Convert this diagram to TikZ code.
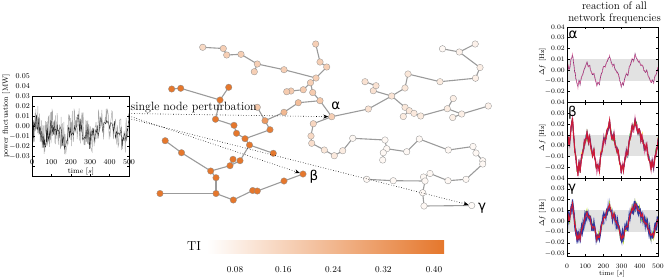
\documentclass[tikz,border=0pt]{standalone}
\usepackage{fontspec}
\newfontfamily\gk{DejaVu Sans}
\usetikzlibrary{arrows.meta}
\pgfdeclarelayer{bg}
\pgfsetlayers{bg,main}
\definecolor{tio}{RGB}{229,119,44}
\definecolor{edg}{RGB}{155,155,155}
\definecolor{bandg}{RGB}{226,226,226}
\definecolor{trpurple}{RGB}{130,40,110}
\definecolor{trpink}{RGB}{225,110,160}
\definecolor{trred}{RGB}{205,25,55}
\definecolor{trblue}{RGB}{45,55,160}
\newcommand\segs{0/0/10/-0.6, 10/-0.6/30/-2.2, 30/-2.2/45/0.4, 45/0.4/60/2.4, 60/2.4/75/1.5, 75/1.5/90/0.3, 90/0.3/110/-1.0, 110/-1.0/130/0.1, 130/0.1/150/1.2, 150/1.2/170/2.2, 170/2.2/190/0.5, 190/0.5/210/-0.8, 210/-0.8/235/-2.0, 235/-2.0/255/-0.5, 255/-0.5/275/0.4, 275/0.4/300/2.3, 300/2.3/320/1.0, 320/1.0/345/-0.8, 345/-0.8/375/-2.2, 375/-2.2/400/-1.0, 400/-1.0/430/0.2, 430/0.2/465/1.8, 465/1.8/485/1.0, 485/1.0/500/-0.3}
\newcommand\keys{0/0.2, 4/-0.1, 8/-0.6, 12/-0.2, 15/-0.3, 19/-1.0, 22/-1.6, 26/-1.9, 30/-2.3, 33/-1.7, 36/-1.0, 39/-0.6, 42/0.3, 45/0.5, 48/1.2, 51/1.5, 54/2.0, 57/2.1, 60/2.5, 63/2.0, 66/1.6, 69/1.9, 72/2.2, 76/1.6, 80/1.0, 84/0.9, 88/0.6, 92/0.2, 95/-0.2, 98/-0.3, 102/-0.6, 106/-0.8, 110/-1.1, 114/-0.7, 118/-0.4, 122/-0.6, 125/-0.7, 128/-0.2, 132/0.2, 136/0.5, 140/0.8, 144/0.6, 148/0.5, 152/1.0, 156/1.4, 160/1.8, 164/2.2, 167/2.0, 170/1.8, 174/2.0, 178/2.1, 182/1.4, 186/0.8, 190/0.5, 194/0.2, 198/-0.2, 202/-0.6, 206/-0.5, 210/-0.4, 214/-0.8, 218/-1.2, 222/-1.4, 226/-1.7, 230/-1.9, 234/-2.1, 238/-1.7, 242/-1.2, 246/-0.8, 250/-0.6, 254/-0.8, 258/-0.9, 262/-0.4, 266/0.0, 270/0.2, 274/0.4, 278/0.5, 282/0.6, 286/1.1, 290/1.6, 294/2.0, 298/2.4, 301/2.1, 304/1.8, 307/2.0, 310/2.2, 314/1.7, 318/1.2, 322/0.9, 326/0.6, 330/0.7, 334/0.8, 338/0.2, 342/-0.4, 346/-0.7, 350/-1.0, 354/-1.3, 358/-1.6, 362/-1.5, 366/-1.4, 370/-1.9, 374/-2.3, 378/-2.0, 382/-1.8, 386/-1.5, 390/-1.2, 394/-1.3, 398/-1.4, 402/-1.0, 406/-0.6, 410/-0.7, 414/-0.8, 418/-0.4, 422/0.0, 426/0.2, 430/0.3, 434/0.2, 438/0.1, 442/0.5, 446/0.9, 450/1.1, 454/1.4, 458/1.7, 462/2.0, 465/1.7, 468/1.5, 472/1.7, 476/1.9, 480/1.4, 484/0.9, 488/0.7, 492/0.5, 496/0.0, 500/-0.4}
% #1 style, #2 amplitude, #3 noise, #4 samples per segment, #5 offset
\newcommand\mytrace[5]{%
  \draw[#1] (0,#5) \foreach \ta/\va/\tb/\vb in \segs {%
    \foreach \k in {1,...,#4} {%
      -- ({\ta+(\tb-\ta)*\k/#4},{#5+#2*(\va+(\vb-\va)*\k/#4)+#3*rand})%
    }%
  };%
}
% #1 style, #2 amplitude, #3 noise
\newcommand\freqtrace[3]{%
  \draw[#1] (0,{#2*0.2}) \foreach \t/\v in \keys { -- (\t,{#2*\v+#3*rand}) };%
}
\tikzset{
  nd/.style={circle, draw=black!45, line width=0.3pt, inner sep=0pt, minimum size=6.5pt, fill=#1},
  ed/.style={draw=edg, line width=1.1pt},
  pert/.style={dotted, line width=0.6pt, -{Stealth[length=5pt,width=4pt]}},
  lab/.style={font=\fontsize{7.5}{8}\selectfont, inner sep=0pt},
  rlab/.style={font=\fontsize{6.8}{7}\selectfont, inner sep=0pt, anchor=east},
  glab/.style={font=\gk\fontsize{13.5}{13.5}\selectfont, inner sep=0pt},
  frame/.style={draw=black, line width=0.4pt}
}
\begin{document}
\begin{tikzpicture}[x=1pt,y=-1pt]
\useasboundingbox (0,0) rectangle (664,277);
\pgfmathsetseed{11}

% ---------------- left plot: power fluctuation ----------------
\begin{scope}[shift={(32,126)}, x=0.194pt, y=-1000pt]
  \begin{scope}
    \clip (0,-0.03) rectangle (500,0.05);
    \mytrace{gray!70, line width=0.45pt}{0.004}{0.018}{10}{0.004}
    \mytrace{black!85, line width=0.35pt}{0.004}{0.01}{6}{0.005}
  \end{scope}
  \draw[frame] (0,-0.03) rectangle (500,0.05);
  \foreach \v in {-0.02,-0.01,0,0.01,0.02,0.03,0.04}{
    \draw[line width=0.3pt] (0,\v) -- ++(2.5pt,0);
    \draw[line width=0.3pt] (500,\v) -- ++(-2.5pt,0);
  }
  \foreach \t in {100,200,300,400}{
    \draw[line width=0.3pt] (\t,-0.03) -- ++(0,-2.5pt);
    \draw[line width=0.3pt] (\t,0.05) -- ++(0,2.5pt);
  }
\end{scope}
\foreach \v in {5,4,3,2,1,0} \node[lab, anchor=east] at (30,{126-\v*10}) {0.0\v};
\foreach \v in {1,2,3} \node[lab, anchor=east] at (30,{126+\v*10}) {$-$0.0\v};
\foreach \t in {0,100,200,300,400,500} \node[lab] at ({32+\t*0.194},162.5) {\t};
\node[lab] (ltime) at (81,171.5) {time [$s$]};
\node[lab, rotate=90] (lpow) at (6,116) {power fluctuation [MW]};

% ---------------- network nodes ----------------
\foreach \n/\x/\y/\c in {
  o1/171.7/89/100, o2/180.7/88.3/100, o3/220/100/100, o4/228.7/87.3/100,
  o5/215.5/119.3/100, o6/234/125.3/100, o7/236.5/133.3/100, o8/245/138.7/100,
  o9/249.5/145/100, o10/270/129.7/95, o11/265/120.7/75, o12/273.3/153.3/100,
  o13/240/160.7/100, o14/233/159.3/100, o15/230/165.7/100, o16/210.7/171/100,
  o17/181.5/152.7/100, o18/165.2/140.7/100, o19/216/177.7/100, o20/216/193.5/100,
  o21/160/193.5/100, o22/233.3/200/100, o23/252.7/190.5/100, o24/257.3/191/100,
  o25/284/181/100, beta/303/174/100}
  \node[nd=tio!\c] (\n) at (\x,\y) {};
\foreach \n/\x/\y/\c in {
  p1/202.7/47.3/28, p2/223.3/48.5/35, p3/226.7/55/35, p4/241/54.3/35,
  p5/257.3/64/35, p6/254.3/71.7/35, p7/284/69.7/35, p8/316/78/35,
  p9/315.7/44/35, p10/320/62/35, p11/326.7/67/35, p12/310.5/82.7/35,
  p13/303.3/89.7/38, p14/291/91/38, p15/286.7/91.7/38, p16/312.7/92.5/38,
  p17/320/100.7/40, p18/298.3/102.7/48, p19/284/112.3/52, p20/257.3/107.3/40,
  alpha/331.7/116.7/35}
  \node[nd=tio!\c] (\n) at (\x,\y) {};
\foreach \n/\x/\y/\c in {
  w1/313.3/123.7/30, w2/311/136/28, w3/311.7/143.3/24, w4/324.3/150/18,
  w5/334.3/155.7/16, w6/342.7/150.7/14, w7/352.7/138.3/6, w8/385/140/5,
  w9/386.7/148.7/5, w10/383.3/152.7/5, w11/382.7/160/5, w12/406.7/151.7/5,
  w13/419.3/139/5, w14/448.3/150/5, w15/473/146.5/5, w16/476/153/5,
  w17/482.7/160.7/5, w18/482.7/164/5, w19/466/179.3/5, w20/448/180.7/5,
  w21/430/173.5/5, w22/423.5/177/5, w23/425/181/5, w24/393.3/180.7/5,
  w25/366.7/179.3/5, w26/422.7/192.7/5, w27/424/206/5, gamma/471.7/205.5/4}
  \node[nd=tio!\c] (\n) at (\x,\y) {};
\foreach \n/\x/\y/\c in {
  r1/368.3/109/22, r2/391.7/96/20, r3/405/88/18, r4/408/74/18,
  r5/440/81.7/15, r6/475.5/78.2/12, r7/480/67.5/12, r8/459.3/52/10,
  r9/442.5/48.8/5, r10/475.2/44/10, r11/373.3/90.7/22, r12/376/85.7/22,
  r13/365/81.7/22, r14/405/107.3/18, r15/409.3/110.7/18, r16/414/113.3/16,
  r17/420.7/116/15, r18/403.3/116.5/15, r19/447.3/108.7/14, r20/453.3/98.5/12,
  r21/461.7/114/12, r22/452.7/117.5/12, r23/488.3/106/10}
  \node[nd=tio!\c] (\n) at (\x,\y) {};

% ---------------- network edges ----------------
\begin{pgfonlayer}{bg}
\foreach \a/\b in {
  o1/o2, o2/o3, o4/o3, o3/o5, o5/o6, o6/o7, o7/o8, o8/o9, o8/o10, o10/o11,
  o9/o12, o9/o13, o13/o15, o14/o15, o15/o16, o16/o17, o17/o18, o16/o19,
  o19/o20, o20/o21, o20/o22, o22/o23, o23/o24, o24/o25, o25/beta,
  o11/p20, o11/p19, p19/p18, p18/p17, p17/alpha,
  p1/p2, p2/p3, p3/p4, p4/p5, p5/p7, p7/p8, p5/p6, p9/p10, p10/p11, p11/p8,
  p8/p12, p12/p13, p13/p14, p14/p15, p12/p16, p16/p17,
  alpha/w1, w1/w2, w2/w3, w3/w4, w4/w5, w5/w6, w6/w7, w7/w8, w8/w9,
  w9/w10, w10/w11, w9/w12, w12/w13, w13/w14, w14/w15, w15/w16, w16/w17,
  w17/w18, w18/w19, w19/w20, w20/w21, w21/w22, w22/w23, w23/w24, w24/w25,
  w23/w26, w26/w27, w27/gamma,
  alpha/r1, r1/r2, r2/r3, r3/r4, r4/r5, r5/r6, r6/r7, r7/r8, r8/r9, r8/r10,
  r2/r11, r11/r12, r12/r13, r2/r14, r14/r15, r15/r16, r16/r17, r17/r19,
  r19/r20, r19/r21, r21/r23, r21/r22, r18/r15}
  \draw[ed] (\a.center) -- (\b.center);
\end{pgfonlayer}

% ---------------- perturbation arrows ----------------
\coordinate (s1) at (129,113.5);
\coordinate (s2) at (129,116);
\coordinate (s3) at (129,118.5);
\draw[pert] (s1) -- (alpha);
\draw[pert] (s2) -- (beta);
\draw[pert] (s3) -- (gamma);
\node[font=\fontsize{12}{12}\selectfont, anchor=base west, inner sep=0pt] (pertlab) at (130.5,110.5) {single node perturbation};

\node[glab] (la) at (335.7,106) {α};
\node[glab] (lb) at (314,176.5) {β};
\node[glab] (lg) at (482,208.5) {γ};

% ---------------- colour bar ----------------
\shade[left color=white, right color=tio] (207,240) rectangle (444,253);
\node[font=\fontsize{13}{13}\selectfont, inner sep=0pt] (ti) at (194,246.5) {TI};
\foreach \xx/\l in {235/0.08, 283.3/0.16, 333.3/0.24, 383.3/0.32, 434/0.40}
  \node[font=\fontsize{9}{9}\selectfont, inner sep=0pt] at (\xx,269.5) {\l};

% ---------------- right panels ----------------
\node[font=\fontsize{11}{12}\selectfont, inner sep=0pt, anchor=base] (t1) at (614.5,9.5) {reaction of all};
\node[font=\fontsize{11}{12}\selectfont, inner sep=0pt, anchor=base] (t2) at (614.5,21.5) {network frequencies};

\begin{scope}[shift={(567,70)}, x=0.182pt, y=-1080pt]
  \fill[bandg] (0,-0.01) rectangle (500,0.01);
  \begin{scope}
    \clip (0,-0.03) rectangle (500,0.04);
    \freqtrace{trpurple, line width=0.6pt}{0.0062}{0.0009}
    \freqtrace{trpink, line width=0.6pt, dash pattern=on 2pt off 2pt}{0.0062}{0.0009}
  \end{scope}
\end{scope}
\begin{scope}[shift={(567,145.6)}, x=0.182pt, y=-1080pt]
  \fill[bandg] (0,-0.01) rectangle (500,0.01);
  \begin{scope}
    \clip (0,-0.03) rectangle (500,0.04);
    \freqtrace{yellow!80!orange, line width=0.5pt}{0.0102}{0.0036}
    \freqtrace{green!60!black, line width=0.5pt}{0.0102}{0.0036}
    \freqtrace{cyan!70!black, line width=0.5pt}{0.0102}{0.0036}
    \freqtrace{trpink, line width=1pt}{0.0102}{0.0032}
    \freqtrace{trpurple, line width=1pt}{0.0102}{0.003}
    \freqtrace{trred, line width=1pt}{0.0102}{0.0026}
  \end{scope}
\end{scope}
\begin{scope}[shift={(567,221.2)}, x=0.182pt, y=-1080pt]
  \fill[bandg] (0,-0.01) rectangle (500,0.01);
  \begin{scope}
    \clip (0,-0.0322) rectangle (500,0.04);
    \freqtrace{trblue!45, line width=0.9pt}{0.0072}{0.006}
    \freqtrace{yellow!70!green, line width=0.4pt}{0.0072}{0.005}
    \freqtrace{trblue, line width=1.1pt}{0.0072}{0.005}
    \freqtrace{trblue, line width=1.1pt}{0.0072}{0.0042}
    \freqtrace{trred, line width=1pt}{0.0072}{0.0014}
  \end{scope}
\end{scope}
\foreach \yt/\yb/\yz in {26.8/102.4/70, 102.4/178/145.6, 178/256/221.2}{
  \draw[frame] (567,\yt) rectangle (658,\yb);
  \foreach \k in {-3,-2,-1,0,1,2,3}{
    \draw[line width=0.3pt] (567,{\yz-\k*10.8}) -- ++(2.5,0);
    \draw[line width=0.3pt] (658,{\yz-\k*10.8}) -- ++(-2.5,0);
  }
  \foreach \t in {100,200,300,400}{
    \draw[line width=0.3pt] ({567+\t*0.182},\yb) -- ++(0,-2.5);
    \draw[line width=0.3pt] ({567+\t*0.182},\yt) -- ++(0,2.5);
  }
  \node[rlab, rotate=90, anchor=center] at (542.5,\yz-8) {$\Delta f$ [Hz]};
}
\foreach \yz in {70,145.6}{
  \foreach \v in {4,3,2,1,0} \node[rlab] at (565,{\yz-\v*10.8}) {0.0\v};
  \foreach \v in {1,2} \node[rlab] at (565,{\yz+\v*10.8}) {$-$0.0\v};
}
\foreach \v in {4,3,2,1,0} \node[rlab] at (565,{221.2-\v*10.8}) {0.0\v};
\foreach \v in {1,2,3} \node[rlab] at (565,{221.2+\v*10.8}) {$-$0.0\v};
\foreach \t in {0,100,200,300,400,500} \node[rlab, anchor=center] at ({567+\t*0.182},266) {\t};
\node[rlab, anchor=center] (rtime) at (612,274) {time [$s$]};

\node[glab] (pa) at (573,35) {α};
\node[glab] (pb) at (572.5,113) {β};
\node[glab] (pg) at (572,189) {γ};
\end{tikzpicture}
\end{document}
